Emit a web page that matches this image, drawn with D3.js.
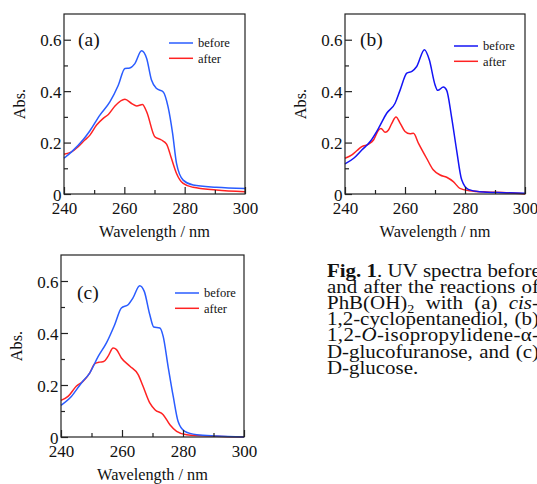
<!DOCTYPE html>
<html><head><meta charset="utf-8">
<script src="https://cdn.jsdelivr.net/npm/d3@7"></script>
<style>
html,body{margin:0;padding:0;background:#fff;overflow:hidden;width:537px;height:484px;}
svg{position:absolute;left:0;top:0;}
text{font-family:"Liberation Serif","Times New Roman",serif;fill:#111;}
</style></head><body>
<script>
// ---- data ----
const wavelengthTicks = [240, 260, 280, 300];
const wavelengthMinor = [250, 270, 290];
const absTicks = [0, 0.2, 0.4, 0.6];
const absMinor = [0.1, 0.3, 0.5];
const seriesNames = ["before", "after"];
const panelLabels = ["(a)", "(b)", "(c)"];
const xTitle = "Wavelength / nm";
const yTitle = "Abs.";

const aBefore = [[240,0.139],[242.5,0.164],[246.4,0.212],[248.6,0.246],[251.9,0.307],[255.2,0.358],[258,0.423],[260.2,0.488],[261.8,0.490],[263.5,0.507],[265.7,0.557],[267.4,0.527],[269,0.443],[270.7,0.410],[272.9,0.397],[274.5,0.339],[276,0.236],[277.3,0.119],[279.5,0.054],[282.8,0.035],[290.5,0.026],[300,0.021]];
const aAfter = [[240,0.155],[242.5,0.164],[244.7,0.184],[246.9,0.210],[248.6,0.229],[250.8,0.268],[253,0.294],[254.7,0.309],[256.9,0.342],[260.2,0.368],[262.4,0.352],[264.1,0.342],[266,0.348],[267.4,0.320],[270.1,0.223],[272.3,0.210],[274,0.194],[275.6,0.139],[277.3,0.080],[279.5,0.041],[282.8,0.026],[290.5,0.016],[300,0.009]];
const bBefore = [[240,0.117],[242.9,0.139],[245.6,0.171],[248.4,0.204],[251.2,0.256],[253.9,0.314],[256.7,0.353],[258.4,0.405],[260.6,0.470],[262.3,0.477],[263.9,0.496],[266.5,0.561],[268.1,0.522],[270,0.425],[270.9,0.403],[272.8,0.416],[273.9,0.403],[275.5,0.301],[277.2,0.171],[278.9,0.055],[281.1,0.018],[284.9,0.009],[292.7,0.005],[300,0.003]];
const bAfter = [[240,0.139],[242.3,0.152],[244,0.169],[245.6,0.184],[247.9,0.194],[249.5,0.210],[251.2,0.249],[252,0.255],[253.4,0.240],[254.5,0.249],[255.6,0.275],[257,0.299],[258.4,0.275],[260,0.243],[261.7,0.234],[262.8,0.236],[264.5,0.197],[267.2,0.139],[269.4,0.094],[271.7,0.074],[273.9,0.065],[276.1,0.048],[278.3,0.022],[281.6,0.013],[287.2,0.008],[292.7,0.006],[300,0.0]];
const cBefore = [[240,0.122],[243.4,0.156],[246.7,0.208],[249.4,0.246],[252.2,0.310],[254.9,0.362],[257.6,0.432],[259.8,0.496],[262,0.509],[263.6,0.535],[265.8,0.582],[267.3,0.560],[269.1,0.471],[270.4,0.423],[272.4,0.419],[273.5,0.387],[275.1,0.272],[276.8,0.156],[278.4,0.060],[280.6,0.022],[284.5,0.009],[291,0.004],[300,0.0]];
const cAfter = [[240,0.141],[242.3,0.156],[245,0.195],[247.2,0.214],[249.4,0.246],[251.1,0.282],[252.7,0.288],[254,0.290],[255.4,0.310],[257.1,0.342],[258.2,0.336],[259.8,0.304],[262.6,0.272],[265.3,0.240],[266.9,0.195],[269.1,0.131],[270.8,0.105],[273.5,0.086],[275.7,0.047],[277.9,0.022],[281.2,0.009],[291,0.003],[300,0.0]];

const captionLines = [
  [[["Fig.","b"]],[["1","b"],[".","n"]],[["UV","n"]],[["spectra","n"]],[["before","n"]]],
  [[["and","n"]],[["after","n"]],[["the","n"]],[["reactions","n"]],[["of","n"]]],
  [[["PhB(OH)","n"],["2","sub"]],[["with","n"]],[["(a)","n"]],[["cis","i"],["-","n"]]],
  [[["1,2-cyclopentanediol,","n"]],[["(b)","n"]]],
  [[["1,2-","n"],["O","i"],["-isopropylidene-α-","n"]]],
  [[["D-glucofuranose,","n"]],[["and","n"]],[["(c)","n"]]],
  [[["D-glucose.","n"]]]
];

// ---- layout ----
const panels = [
  {label: panelLabels[0], before: aBefore, after: aAfter, blue: "#2a5cff",
   left: 64, right: 245, top: 14, bottom: 194, legX: 105, legY: 29, labX: 14, labY: 32},
  {label: panelLabels[1], before: bBefore, after: bAfter, blue: "#1414f5",
   left: 345, right: 525, top: 14, bottom: 194, legX: 109, legY: 32, labX: 15, labY: 32},
  {label: panelLabels[2], before: cBefore, after: cAfter, blue: "#2a5cff",
   left: 61, right: 244, top: 255, bottom: 437, legX: 114, legY: 38, labX: 16, labY: 44}
];
const red = "#ff2222";

const svg = d3.select("body").append("svg").attr("width", 537).attr("height", 484);

panels.forEach(p => {
  const x = d3.scaleLinear().domain([240, 300]).range([p.left, p.right]);
  const y = d3.scaleLinear().domain([0, 0.7]).range([p.bottom, p.top]);
  const g = svg.append("g");

  const line = d3.line().x(d => x(d[0])).y(d => y(d[1])).curve(d3.curveMonotoneX);
  g.append("path").datum(p.after).attr("d", line).attr("fill", "none")
    .attr("stroke", red).attr("stroke-width", 1.5);
  g.append("path").datum(p.before).attr("d", line).attr("fill", "none")
    .attr("stroke", p.blue).attr("stroke-width", 1.5);

  g.append("rect").attr("x", p.left).attr("y", p.top)
    .attr("width", p.right - p.left).attr("height", p.bottom - p.top)
    .attr("fill", "none").attr("stroke", "#222").attr("stroke-width", 1.2);

  const xa = g.append("g").attr("transform", `translate(0,${p.bottom})`)
    .call(d3.axisBottom(x).tickValues(wavelengthTicks).tickSize(-7).tickPadding(0).tickFormat(d3.format("d")));
  xa.select(".domain").remove();
  xa.selectAll("line").attr("stroke", "#222").attr("stroke-width", 1.2);
  xa.selectAll("text").attr("y", 19.5).attr("dy", 0).attr("font-size", 17)
    .attr("font-family", "Liberation Serif").attr("fill", "#111");
  const xm = g.append("g").attr("transform", `translate(0,${p.bottom})`)
    .call(d3.axisBottom(x).tickValues(wavelengthMinor).tickSize(-4).tickFormat(""));
  xm.select(".domain").remove();
  xm.selectAll("line").attr("stroke", "#222").attr("stroke-width", 1.2);

  const ya = g.append("g").attr("transform", `translate(${p.left},0)`)
    .call(d3.axisLeft(y).tickValues(absTicks).tickSize(-7).tickPadding(0)
      .tickFormat(d => d === 0 ? "0" : d.toFixed(1)));
  ya.select(".domain").remove();
  ya.selectAll("line").attr("stroke", "#222").attr("stroke-width", 1.2);
  ya.selectAll("text").attr("x", -2.5).attr("dy", "0.36em").attr("font-size", 17)
    .attr("font-family", "Liberation Serif").attr("fill", "#111");
  const ym = g.append("g").attr("transform", `translate(${p.left},0)`)
    .call(d3.axisLeft(y).tickValues(absMinor).tickSize(-4).tickFormat(""));
  ym.select(".domain").remove();
  ym.selectAll("line").attr("stroke", "#222").attr("stroke-width", 1.2);

  g.append("text").attr("x", (p.left + p.right) / 2).attr("y", p.bottom + 43)
    .attr("text-anchor", "middle").attr("font-size", 16.3).text(xTitle);
  g.append("text").attr("transform", `translate(${p.left - 39},${(p.top + p.bottom) / 2}) rotate(-90)`)
    .attr("text-anchor", "middle").attr("font-size", 16.3).text(yTitle);

  g.append("text").attr("x", p.left + p.labX).attr("y", p.top + p.labY)
    .attr("font-size", 19.5).text(p.label);

  const cols = [p.blue, red];
  seriesNames.forEach((s, i) => {
    const ly = p.top + p.legY + i * 15.3;
    g.append("line").attr("x1", p.left + p.legX).attr("x2", p.left + p.legX + 24)
      .attr("y1", ly).attr("y2", ly).attr("stroke", cols[i]).attr("stroke-width", 1.5);
    g.append("text").attr("x", p.left + p.legX + 29).attr("y", ly + 4.2)
      .attr("font-size", 12.5).text(s);
  });
});

// caption (justified, slightly widened glyphs)
const capLeft = 327, capRight = 539, capBase = 277, capStep = 16.1, capSize = 19.2, capSX = 1.09;
captionLines.forEach((words, li) => {
  const yb = capBase + li * capStep;
  const lg = svg.append("g").attr("transform", `translate(${capLeft},${yb}) scale(${capSX},1)`);
  const els = words.map(w => {
    const t = lg.append("text").attr("y", 0).attr("font-size", capSize);
    w.forEach(([s, st]) => {
      const ts = t.append("tspan").text(s);
      if (st === "b") ts.attr("font-weight", "bold");
      if (st === "i") ts.attr("font-style", "italic");
      if (st === "sub") ts.attr("font-size", 13).attr("dy", 4);
    });
    return t;
  });
  const avail = (capRight - capLeft) / capSX;
  const isLast = li === captionLines.length - 1;
  if (els.length === 1 && !isLast) {
    const w0 = els[0].node().getComputedTextLength();
    const n = els[0].text().length;
    if (w0 < avail && n > 1) els[0].attr("letter-spacing", (avail - w0) / (n - 1));
  }
  const widths = els.map(e => e.node().getComputedTextLength());
  const total = d3.sum(widths);
  const nat = capSize * 0.25;
  let gap = nat;
  if (els.length > 1 && !isLast) {
    gap = Math.max(nat, (avail - total) / (els.length - 1));
  }
  let cx = 0;
  els.forEach((e, i) => { e.attr("x", cx); cx += widths[i] + gap; });
});
</script>
</body></html>
